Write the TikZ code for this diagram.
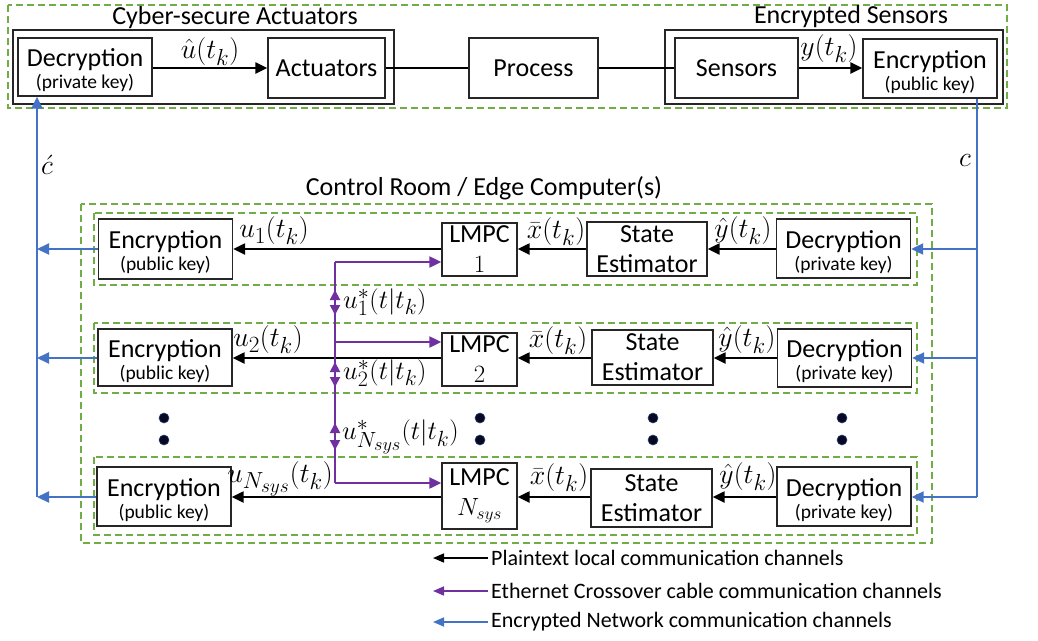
\documentclass[tikz,border=0pt]{standalone}
\usepackage{fontspec}
\setmainfont{Carlito}
\usetikzlibrary{arrows.meta,calc}
\definecolor{grn}{RGB}{112,173,71}
\definecolor{blu}{RGB}{68,114,196}
\definecolor{prp}{RGB}{112,48,160}
\definecolor{dotc}{RGB}{8,8,36}
\begin{document}
\begin{tikzpicture}[x=1pt,y=-1pt,
  box/.style={draw=black!85, line width=1.3pt, inner sep=0pt, align=center, font=\fontsize{26}{30}\selectfont},
  encbox/.style={box, minimum width=134pt, minimum height=59pt},
  sebox/.style={box, minimum width=121pt, minimum height=55pt},
  lmbox/.style={box, minimum width=75pt, minimum height=53pt},
  frame/.style={draw=black!85, line width=1.3pt},
  grp/.style={draw=grn, line width=1.4pt, dash pattern=on 7pt off 4pt},
  ttl/.style={inner sep=0pt, font=\fontsize{26}{30}\selectfont},
  lbl/.style={inner sep=0pt, font=\fontsize{24.88}{30}\selectfont, scale=1.12},
  slbl/.style={inner sep=0pt, font=\fontsize{24.88}{30}\selectfont, scale=1.06},
  blk/.style={draw=black, line width=2.2pt, -{Triangle[length=12pt,width=11pt]}},
  bline/.style={draw=black, line width=2.2pt},
  blu arr/.style={draw=blu, line width=2pt, -{Triangle[length=12pt,width=11pt]}},
  blu line/.style={draw=blu, line width=2pt},
  prp arr/.style={draw=prp, line width=2pt, -{Triangle[length=12pt,width=11pt]}},
  prp line/.style={draw=prp, line width=2pt},
  prp dbl/.style={draw=prp, line width=2pt, {Triangle[length=10pt,width=10pt]}-{Triangle[length=10pt,width=10pt]}},
  leg/.style={line width=1.6pt, -{Triangle[length=11pt,width=9pt]}},
  legtxt/.style={inner sep=0pt, anchor=west, font=\fontsize{22}{26}\selectfont},
  dotn/.style={circle, fill=dotc, draw=blu!60!black, line width=0.6pt, minimum size=10pt, inner sep=0pt},
]
\useasboundingbox (0,0) rectangle (1038,640);
\newcommand{\sk}[1]{{\fontsize{19.5}{22}\selectfont #1}}
\newcommand{\hi}{\rule{0pt}{25pt}}
\newcommand{\kb}[2]{\hi #1\\[-8pt]\sk{#2}}

% ---------- top plant ----------
\draw[grp] (8,5) rectangle (1007,108);
\draw[frame] (13,30) rectangle (394,104);
\draw[frame] (665,30) rectangle (1003,104);
\node[ttl] (tact) at (235,18) {Cyber-secure Actuators};
\node[ttl] (tsen) at (851,17) {Encrypted Sensors};

\node[encbox, minimum height=58pt] (dec0) at (85,67) {\kb{Decryption}{(private key)}};
\node[box, minimum width=117pt, minimum height=60pt] (act) at (326.5,68) {Actuators};
\node[box, minimum width=129pt, minimum height=60pt] (proc) at (533.5,68) {Process};
\node[box, minimum width=123pt, minimum height=60pt] (sens) at (736.5,68) {Sensors};
\node[encbox] (enc0) at (930,68.5) {\kb{Encryption}{(public key)}};

\draw[blk] (dec0.east |- 0,68) -- (act.west |- 0,68);
\draw[bline] (act) -- (proc);
\draw[bline] (proc) -- (sens);
\draw[blk] (sens.east |- 0,68) -- (enc0.west |- 0,68);
\node[lbl] (lu0) at (210,52) {$\hat{u}(t_k)$};
\node[lbl] (ly0) at (829,49) {$y(t_k)$};

% ---------- control room ----------
\node[ttl] (tcr) at (484,188) {Control Room / Edge Computer(s)};
\draw[grp] (81,204) rectangle (932,543);
\draw[grp] (94,213) rectangle (917,285);
\draw[grp] (94,323) rectangle (917,393);
\draw[grp] (94,457) rectangle (917,535);

% row 1
\node[encbox, minimum height=60pt] (enc1) at (165.5,249) {\kb{Encryption}{(public key)}};
\node[lmbox] (lm1) at (479.5,249.5) {LMPC\\$1$};
\node[sebox, minimum width=120pt, minimum height=54pt] (se1) at (647,249) {State\\Estimator};
\node[encbox] (dec1) at (843.5,248.5) {\kb{Decryption}{(private key)}};
\coordinate (r1) at (0,249);
\draw[blk] (dec1.west |- r1) -- (se1.east |- r1);
\draw[blk] (se1.west |- r1) -- (lm1.east |- r1);
\draw[blk] (lm1.west |- r1) -- (enc1.east |- r1);
\node[lbl] (lu1) at (274,231) {$u_1(t_k)$};
\node[lbl] (lx1) at (556,232) {$\bar{x}(t_k)$};
\node[lbl] (ly1) at (743,231) {$\hat{y}(t_k)$};

% row 2
\node[encbox, minimum height=57pt] (enc2) at (165,357.5) {\kb{Encryption}{(public key)}};
\node[lmbox] (lm2) at (479.5,359.5) {LMPC\\$2$};
\node[sebox] (se2) at (652.5,357.5) {State\\Estimator};
\node[encbox, minimum height=58pt] (dec2) at (844.5,358) {\kb{Decryption}{(private key)}};
\coordinate (r2) at (0,358);
\draw[blk] (dec2.west |- r2) -- (se2.east |- r2);
\draw[blk] (se2.west |- r2) -- (lm2.east |- r2);
\draw[blk] (lm2.west |- r2) -- (enc2.east |- r2);
\node[lbl] (lu2) at (268,340) {$u_2(t_k)$};
\node[lbl] (lx2) at (558,341) {$\bar{x}(t_k)$};
\node[lbl] (ly2) at (747,340) {$\hat{y}(t_k)$};

% row 3
\node[encbox] (enc3) at (164,496.5) {\kb{Encryption}{(public key)}};
\node[lmbox, minimum height=66pt] (lm3) at (479.5,496) {LMPC\\$N_{sys}$};
\node[sebox, minimum height=58pt] (se3) at (651.5,498) {State\\Estimator};
\node[encbox] (dec3) at (844,496.5) {\kb{Decryption}{(private key)}};
\coordinate (r3) at (0,497);
\draw[blk] (dec3.west |- r3) -- (se3.east |- r3);
\draw[blk] (se3.west |- r3) -- (lm3.east |- r3);
\draw[blk] (lm3.west |- r3) -- (enc3.east |- r3);
\node[lbl] (lu3) at (280,479) {$u_{N_{sys}}(t_k)$};
\node[lbl] (lx3) at (559,478) {$\bar{x}(t_k)$};
\node[lbl] (ly3) at (748,477) {$\hat{y}(t_k)$};

% dots
\foreach \xx/\nm in {164/a,480/b,653/c,842/d}{
  \node[dotn] (d1\nm) at (\xx,418) {};
  \node[dotn] (d2\nm) at (\xx,440) {};
}

% ---------- purple crossover ----------
\coordinate (pt) at (335,262);
\coordinate (pm) at (335,342);
\coordinate (pb) at (335,483);
\draw[prp line] (pt) -- (pb);
\draw[prp arr] (pt) -- (lm1.west |- pt);
\draw[prp arr] (pm) -- (lm2.west |- pm);
\draw[prp arr] (pb) -- (lm3.west |- pb);
\coordinate (pa1) at (335,290); \coordinate (pa2) at (335,315);
\coordinate (pb1) at (335,362); \coordinate (pb2) at (335,387);
\coordinate (pc1) at (335,423); \coordinate (pc2) at (335,450);
\draw[prp dbl] (pa1) -- (pa2);
\draw[prp dbl] (pb1) -- (pb2);
\draw[prp dbl] (pc1) -- (pc2);
\node[slbl, anchor=west] (ls1) at (343,302) {$u^*_1(t|t_k)$};
\node[slbl, anchor=west] (ls2) at (343,373) {$u^*_2(t|t_k)$};
\node[slbl, anchor=west] (ls3) at (342,437) {$u^*_{N_{sys}}(t|t_k)$};

% ---------- blue network ----------
\coordinate (bl) at (37,497);
\coordinate (br) at (977,497);
\draw[blu arr] (bl) -- (dec0.south -| bl);
\draw[blu line] (enc0.south -| br) -- (br);
\draw[blu arr] (enc1.west |- r1) -- (bl |- r1);
\draw[blu arr] (enc2.west |- r2) -- (bl |- r2);
\draw[blu arr] (enc3.west |- r3) -- (bl);
\draw[blu arr] (br |- r1) -- (dec1.east |- r1);
\draw[blu arr] (br |- r2) -- (dec2.east |- r2);
\draw[blu arr] (br) -- (dec3.east |- r3);
\node[lbl] (lcp) at (47,165) {$\acute{c}$};
\node[lbl] (lc) at (965,160) {$c$};

% ---------- legend ----------
\coordinate (g1a) at (488,558); \coordinate (g1b) at (433,558);
\coordinate (g2a) at (488,591); \coordinate (g2b) at (433,591);
\coordinate (g3a) at (488,622); \coordinate (g3b) at (433,622);
\draw[leg, draw=black] (g1a) -- (g1b);
\draw[leg, draw=prp] (g2a) -- (g2b);
\draw[leg, draw=blu] (g3a) -- (g3b);
\node[legtxt] (t1) at (491,558) {Plaintext local communication channels};
\node[legtxt] (t2) at (491,591) {Ethernet Crossover cable communication channels};
\node[legtxt] (t3) at (491,622) {Encrypted Network communication channels};
\end{tikzpicture}
\end{document}
